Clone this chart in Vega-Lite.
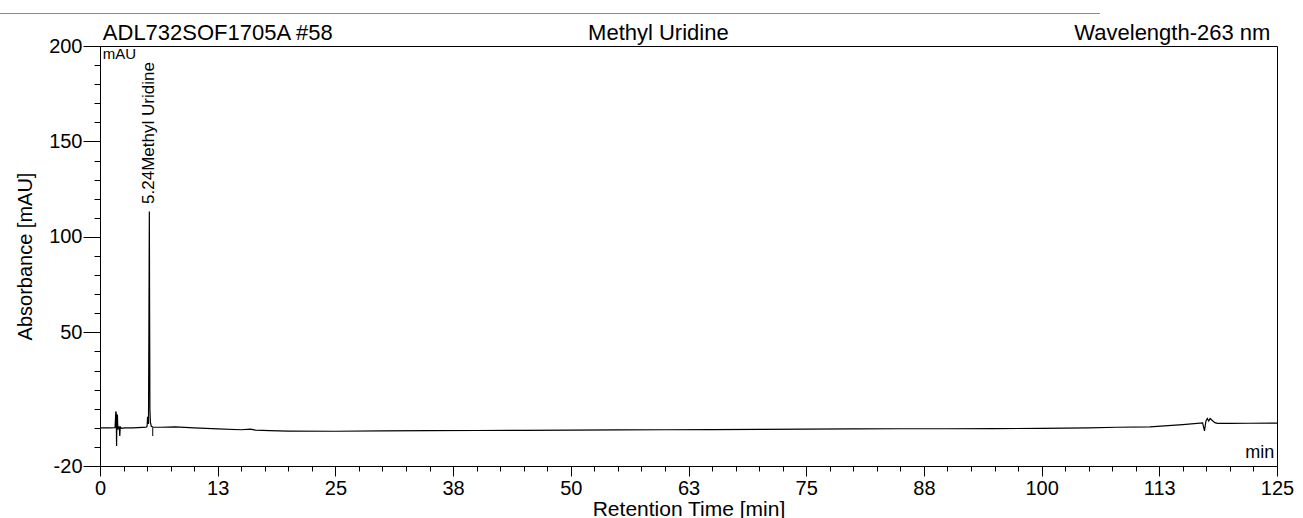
{
  "$schema": "https://vega.github.io/schema/vega-lite/v6.json",
  "width": 1177,
  "height": 420,
  "autosize": {"type": "none"},
  "padding": {"left": 100, "top": 46, "right": 26, "bottom": 52},
  "background": "white",
  "config": {
    "view": {"stroke": "black", "strokeWidth": 1},
    "font": "Liberation Sans",
    "axis": {
      "grid": false,
      "domainColor": "black",
      "domainWidth": 1,
      "tickColor": "black",
      "tickWidth": 1,
      "labelColor": "black",
      "titleColor": "black",
      "labelFont": "Liberation Sans",
      "titleFont": "Liberation Sans",
      "titleFontWeight": "normal",
      "labelOverlap": false,
      "labelFlush": false
    }
  },
  "datasets": {
    "trace": [
      {"t": 0, "v": 0.0}, {"t": 1.0, "v": 0.0}, {"t": 1.6, "v": 0.1},
      {"t": 1.68, "v": 8.5}, {"t": 1.72, "v": 8.0}, {"t": 1.76, "v": -9.5},
      {"t": 1.8, "v": 7.0}, {"t": 1.85, "v": 6.5}, {"t": 1.9, "v": -1.0},
      {"t": 1.95, "v": 0.5}, {"t": 2.05, "v": 0.3}, {"t": 2.1, "v": -4.3},
      {"t": 2.15, "v": 0.5}, {"t": 2.3, "v": -0.3}, {"t": 2.6, "v": 0.0},
      {"t": 3.5, "v": 0.0}, {"t": 4.5, "v": 0.2}, {"t": 4.9, "v": 0.3},
      {"t": 5.0, "v": 0.8}, {"t": 5.05, "v": 5.5}, {"t": 5.1, "v": 5.5},
      {"t": 5.15, "v": 2.0}, {"t": 5.2, "v": 60.0}, {"t": 5.24, "v": 113.3},
      {"t": 5.27, "v": 60.0}, {"t": 5.3, "v": 10.0}, {"t": 5.35, "v": 3.0},
      {"t": 5.45, "v": 0.8}, {"t": 5.6, "v": 0.4}, {"t": 6.5, "v": 0.3},
      {"t": 8.0, "v": 0.5}, {"t": 8.5, "v": 0.4}, {"t": 10, "v": 0.0},
      {"t": 12.5, "v": -0.6}, {"t": 15, "v": -1.0}, {"t": 16, "v": -0.7},
      {"t": 16.5, "v": -1.2}, {"t": 18, "v": -1.5}, {"t": 20, "v": -1.7},
      {"t": 25, "v": -1.8}, {"t": 30, "v": -1.6}, {"t": 35, "v": -1.5},
      {"t": 40, "v": -1.4}, {"t": 45, "v": -1.3}, {"t": 50, "v": -1.2},
      {"t": 55, "v": -1.1}, {"t": 60, "v": -1.0}, {"t": 65, "v": -0.9},
      {"t": 70, "v": -0.8}, {"t": 75, "v": -0.7}, {"t": 80, "v": -0.6},
      {"t": 85, "v": -0.5}, {"t": 90, "v": -0.5}, {"t": 95, "v": -0.4},
      {"t": 100, "v": -0.3}, {"t": 105, "v": 0.0}, {"t": 108, "v": 0.3},
      {"t": 111.5, "v": 0.5}, {"t": 115, "v": 1.7}, {"t": 117.1, "v": 2.6},
      {"t": 117.3, "v": -1.6}, {"t": 117.45, "v": 3.5}, {"t": 117.6, "v": 4.9},
      {"t": 117.75, "v": 3.6}, {"t": 117.9, "v": 4.9}, {"t": 118.1, "v": 4.0},
      {"t": 118.4, "v": 2.7}, {"t": 118.7, "v": 2.3}, {"t": 120, "v": 2.3},
      {"t": 122, "v": 2.4}, {"t": 125, "v": 2.5}
    ],
    "marker": [{"t": 5.6, "v": 0, "v2": -4.3}],
    "headLeft": [{"t": 0.3, "v": 203.4, "label": "ADL732SOF1705A #58"}],
    "corner": [{"t": 0.3, "v": 193, "label": "mAU"}],
    "headCenter": [{"t": 59.3, "v": 203.4, "label": "Methyl Uridine"}],
    "headRight": [{"t": 124.3, "v": 203.4, "label": "Wavelength-263 nm"}],
    "unit": [{"t": 124.7, "v": -16, "label": "min"}],
    "peak": [{"t": 5.24, "v": 117.3, "label": "5.24Methyl Uridine"}],
    "pageLine": [{"t": -10.62, "t2": 106.2, "v": 217}]
  },
  "layer": [
    {
      "data": {"name": "trace"},
      "mark": {"type": "line", "color": "black", "strokeWidth": 1.2, "interpolate": "linear"},
      "encoding": {
        "x": {
          "field": "t", "type": "quantitative",
          "scale": {"domain": [0, 125], "nice": false, "zero": false},
          "axis": {
            "values": [0,2.5,5,7.5,10,12.5,15,17.5,20,22.5,25,27.5,30,32.5,35,37.5,40,42.5,45,47.5,50,52.5,55,57.5,60,62.5,65,67.5,70,72.5,75,77.5,80,82.5,85,87.5,90,92.5,95,97.5,100,102.5,105,107.5,110,112.5,115,117.5,120,122.5,125],
            "tickCount": 500,
            "labelOverlap": false,
            "labelFlush": false,
            "labelExpr": "datum.value % 12.5 === 0 ? '' + round(datum.value) : ''",
            "tickSize": {"condition": {"test": "datum.value % 12.5 === 0", "value": 10}, "value": 5},
            "labelFontSize": 20,
            "labelPadding": 2,
            "title": "Retention Time [min]",
            "titleFontSize": 21,
            "titlePadding": 0
          }
        },
        "y": {
          "field": "v", "type": "quantitative",
          "scale": {"domain": [-20, 200], "nice": false, "zero": false},
          "axis": {
            "values": [-20,-10,0,10,20,30,40,50,60,70,80,90,100,110,120,130,140,150,160,170,180,190,200],
            "tickCount": 500,
            "labelOverlap": false,
            "labelFlush": false,
            "labelExpr": "(datum.value == 200 || datum.value == 150 || datum.value == 100 || datum.value == 50 || datum.value == -20) ? '' + datum.value : ''",
            "tickSize": {"condition": {"test": "datum.value == 200 || datum.value == 150 || datum.value == 100 || datum.value == 50 || datum.value == -20", "value": 17}, "value": 6},
            "labelFontSize": 20,
            "labelPadding": 1,
            "title": "Absorbance [mAU]",
            "titleFontSize": 20,
            "titlePadding": 13
          }
        }
      }
    },
    {
      "data": {"name": "marker"},
      "mark": {"type": "rule", "color": "black", "strokeWidth": 1},
      "encoding": {
        "x": {"field": "t", "type": "quantitative"},
        "y": {"field": "v", "type": "quantitative"},
        "y2": {"field": "v2"}
      }
    },
    {
      "data": {"name": "pageLine"},
      "mark": {"type": "rule", "color": "#888888", "strokeWidth": 1, "clip": false},
      "encoding": {
        "x": {"field": "t", "type": "quantitative"},
        "x2": {"field": "t2"},
        "y": {"field": "v", "type": "quantitative"}
      }
    },
    {
      "data": {"name": "headLeft"},
      "mark": {"type": "text", "align": "left", "baseline": "alphabetic", "fontSize": 22, "color": "black"},
      "encoding": {
        "x": {"field": "t", "type": "quantitative"},
        "y": {"field": "v", "type": "quantitative"},
        "text": {"field": "label"}
      }
    },
    {
      "data": {"name": "corner"},
      "mark": {"type": "text", "align": "left", "baseline": "alphabetic", "fontSize": 15, "color": "black"},
      "encoding": {
        "x": {"field": "t", "type": "quantitative"},
        "y": {"field": "v", "type": "quantitative"},
        "text": {"field": "label"}
      }
    },
    {
      "data": {"name": "headCenter"},
      "mark": {"type": "text", "align": "center", "baseline": "alphabetic", "fontSize": 22, "color": "black"},
      "encoding": {
        "x": {"field": "t", "type": "quantitative"},
        "y": {"field": "v", "type": "quantitative"},
        "text": {"field": "label"}
      }
    },
    {
      "data": {"name": "headRight"},
      "mark": {"type": "text", "align": "right", "baseline": "alphabetic", "fontSize": 22, "color": "black"},
      "encoding": {
        "x": {"field": "t", "type": "quantitative"},
        "y": {"field": "v", "type": "quantitative"},
        "text": {"field": "label"}
      }
    },
    {
      "data": {"name": "unit"},
      "mark": {"type": "text", "align": "right", "baseline": "alphabetic", "fontSize": 18, "color": "black"},
      "encoding": {
        "x": {"field": "t", "type": "quantitative"},
        "y": {"field": "v", "type": "quantitative"},
        "text": {"field": "label"}
      }
    },
    {
      "data": {"name": "peak"},
      "mark": {"type": "text", "align": "left", "baseline": "middle", "angle": 270, "fontSize": 17, "color": "black"},
      "encoding": {
        "x": {"field": "t", "type": "quantitative"},
        "y": {"field": "v", "type": "quantitative"},
        "text": {"field": "label"}
      }
    }
  ]
}
